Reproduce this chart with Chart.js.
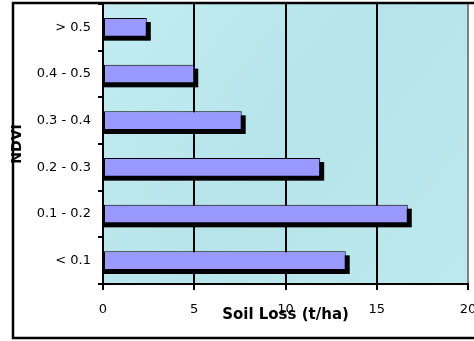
<!DOCTYPE html>
<html>
<head>
<meta charset="utf-8">
<script src="https://cdn.jsdelivr.net/npm/chart.js@4/dist/chart.umd.min.js"></script>
<style>
  html, body { margin: 0; padding: 0; background: #ffffff; }
  #wrap { width: 474px; height: 341px; position: relative; }
</style>
</head>
<body>
<div id="wrap"><canvas id="c" width="474" height="341"></canvas></div>
<script>
// ---- data ----
const categories = ['< 0.1', '0.1 - 0.2', '0.2 - 0.3', '0.3 - 0.4', '0.4 - 0.5', '> 0.5'];
const soilLoss = [13.3, 16.7, 11.9, 7.6, 5.0, 2.4];
const xTicks = [0, 5, 10, 15, 20];
const xTitle = 'Soil Loss (t/ha)';
const yTitle = 'NDVI';

const FONT = "'DejaVu Sans', 'Liberation Sans', Arial, sans-serif";

const backgroundPlugin = {
  id: 'bgPlugin',
  beforeDraw(chart) {
    const { ctx, chartArea: a } = chart;
    ctx.save();
    ctx.fillStyle = '#ffffff';
    ctx.fillRect(0, 0, chart.width, chart.height);
    const g = ctx.createLinearGradient(a.left, a.top, a.right, a.bottom);
    g.addColorStop(0, '#c2ecf1');
    g.addColorStop(0.5, '#b6e4ea');
    g.addColorStop(1, '#bde9ee');
    ctx.fillStyle = g;
    ctx.fillRect(a.left, a.top, a.right - a.left, a.bottom - a.top);
    ctx.restore();
  },
  beforeDatasetsDraw(chart) {
    // drop shadow under each bar, derived from the bar elements
    const { ctx } = chart;
    const meta = chart.getDatasetMeta(0);
    ctx.save();
    ctx.fillStyle = '#000000';
    meta.data.forEach(el => {
      const p = el.getProps(['x', 'y', 'base', 'height'], true);
      ctx.fillRect(p.base, p.y - p.height / 2 + 4, p.x - p.base + 4, p.height);
    });
    ctx.restore();
  },
  afterDraw(chart) {
    const { ctx } = chart;
    ctx.save();
    ctx.strokeStyle = '#000000';
    ctx.lineWidth = 2.5;
    ctx.strokeRect(13, 3, 600, 335);
    ctx.restore();
  }
};

new Chart(document.getElementById('c'), {
  type: 'bar',
  data: {
    labels: categories,
    datasets: [{
      data: soilLoss,
      backgroundColor: '#9999ff',
      borderColor: '#000000',
      borderWidth: 1,
      borderSkipped: false,
      barPercentage: 0.4,
      categoryPercentage: 1.0
    }]
  },
  options: {
    indexAxis: 'y',
    responsive: false,
    animation: false,
    devicePixelRatio: 1,
    layout: { padding: { left: 0, top: 4, right: 6, bottom: 0 } },
    plugins: { legend: { display: false }, tooltip: { enabled: false } },
    scales: {
      x: {
        type: 'linear',
        min: 0, max: 20,
        afterBuildTicks(scale) { scale.ticks = xTicks.map(v => ({ value: v })); },
        afterFit(scale) {
          scale.height = 57;
          scale.paddingLeft = 0; scale.paddingRight = 0;
          scale.paddingTop = 0; scale.paddingBottom = 0;
        },
        grid: {
          drawOnChartArea: true,
          color: ctx => (ctx.tick && ctx.tick.value === 20) ? '#808080' : '#000000',
          tickColor: '#000000',
          lineWidth: 2,
          tickLength: 6
        },
        border: { display: true, color: '#000000', width: 2 },
        ticks: { color: '#000000', font: { family: FONT, size: 13 }, padding: 12, maxRotation: 0 },
        title: {
          display: true, text: xTitle, color: '#000000',
          font: { family: FONT, size: 15, weight: 'bold' },
          padding: { top: 0, bottom: 17 }
        }
      },
      y: {
        type: 'category',
        reverse: true,
        afterFit(scale) {
          scale.width = 103;
          scale.paddingLeft = 0; scale.paddingRight = 0;
          scale.paddingTop = 0; scale.paddingBottom = 0;
        },
        grid: {
          offset: true,
          drawOnChartArea: false,
          tickColor: '#000000',
          lineWidth: 2,
          tickLength: 5
        },
        border: { display: true, color: '#000000', width: 2 },
        ticks: { color: '#000000', font: { family: FONT, size: 13 }, padding: 7 },
        title: {
          display: true, text: yTitle, color: '#000000',
          font: { family: FONT, size: 14, weight: 'bold' },
          padding: { top: 9, bottom: 0 }
        }
      }
    }
  },
  plugins: [backgroundPlugin]
});
</script>
</body>
</html>
